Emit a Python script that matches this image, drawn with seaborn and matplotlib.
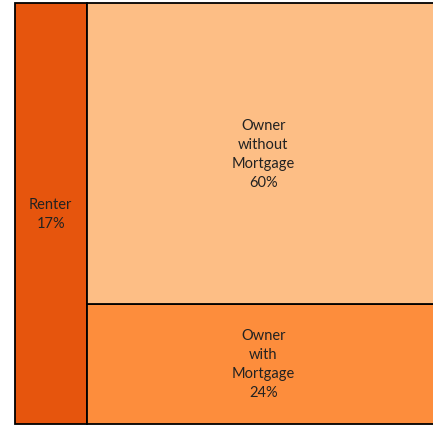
import matplotlib
matplotlib.use("Agg")
import matplotlib.pyplot as plt
import seaborn as sns

categories = ["Renter", "Owner\nwithout\nMortgage", "Owner\nwith\nMortgage"]
values = [17, 60, 24]
colors = ["#E6550D", "#FDBE85", "#FD8D3C"]

sns.set_theme(style="white")
plt.rcParams['font.family'] = ['Lato', 'DejaVu Sans']

W, H = 433, 427
fig = plt.figure(figsize=(W / 100, H / 100), dpi=100)
left_px, right_px, top_px, bottom_px = 15, 440, 4, 425
ax = fig.add_axes([left_px / W, (H - bottom_px) / H,
                   (right_px - left_px) / W, (bottom_px - top_px) / H])

total = sum(values)
renter_w = values[0] / total
owner_w = 1 - renter_w
owner_total = values[1] + values[2]
h_without = values[1] / owner_total
h_with = values[2] / owner_total

bars = []
bars += ax.bar(0, 1, width=renter_w, bottom=0, align="edge", color=colors[0],
               edgecolor="black", linewidth=1.3)
bars += ax.bar(renter_w, h_with, width=owner_w, bottom=0, align="edge", color=colors[2],
               edgecolor="black", linewidth=1.3)
bars += ax.bar(renter_w, h_without, width=owner_w, bottom=h_with, align="edge",
               color=colors[1], edgecolor="black", linewidth=1.3)
for b in bars:
    b.set_clip_on(False)

labels = [f"{c}\n{v}%" for c, v in zip(categories, values)]
kw = dict(ha="center", va="center", fontsize=10.5, linespacing=1.45, color="#222222")
ax.text(renter_w / 2, 0.5, labels[0], **kw)
ax.text(renter_w + owner_w / 2, h_with + h_without / 2, labels[1], **kw)
ax.text(renter_w + owner_w / 2, h_with / 2, labels[2], **kw)

ax.set_xlim(0, 1)
ax.set_ylim(0, 1)
ax.set_xticks([])
ax.set_yticks([])
for s in ax.spines.values():
    s.set_visible(False)

fig.savefig("out.png", dpi=100, facecolor="white")
